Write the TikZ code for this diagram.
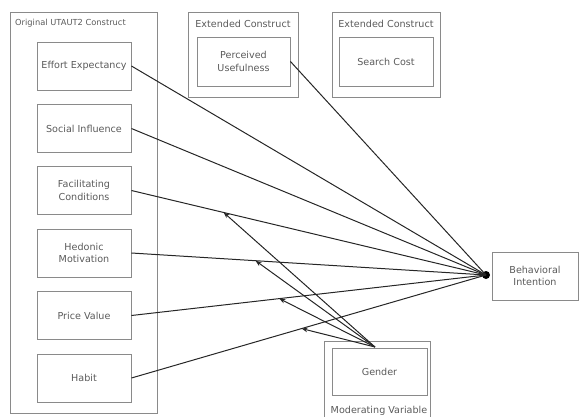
\documentclass[tikz,border=0pt]{standalone}
\usepackage{fontspec}
\setmainfont{DejaVu Sans}
\usetikzlibrary{arrows.meta}
\definecolor{boxgray}{HTML}{8A8A8A}
\definecolor{txtgray}{HTML}{5A5A5A}
\definecolor{linegray}{HTML}{262626}
\tikzset{
  container/.style={draw=boxgray, line width=0.9pt, inner sep=0pt},
  construct/.style={draw=boxgray, line width=0.9pt, align=center, text=txtgray,
    font=\fontsize{9.6}{12.5}\selectfont, inner sep=1pt},
  title/.style={text=txtgray, font=\fontsize{9.6}{11}\selectfont, inner sep=0pt},
  conn/.style={draw=linegray, line width=1pt},
  modarrow/.style={draw=linegray, line width=1pt, -{Stealth[length=6pt,width=4.5pt]}},
}
\begin{document}
\begin{tikzpicture}[x=1pt,y=-1pt]
\useasboundingbox (0,0) rectangle (581,416);
\clip (0,0) rectangle (581,416);

% containers
\node[container, minimum width=147pt, minimum height=401pt] (orig) at (83.5,212.5) {};
\node[title, anchor=west, font=\fontsize{8.3}{10}\selectfont] (origt) at (15,23) {Original UTAUT2 Construct};
\node[container, minimum width=110pt, minimum height=85pt] (ext1) at (243,54.5) {};
\node[title] (ext1t) at (243,24) {Extended Construct};
\node[container, minimum width=108pt, minimum height=85pt] (ext2) at (386,54.5) {};
\node[title] (ext2t) at (386,24) {Extended Construct};
\node[container, minimum width=106pt, minimum height=82pt] (modc) at (377.5,382) {};
\node[title] (modt) at (379,411) {Moderating Variable};

% constructs
\node[construct, minimum width=94pt, minimum height=48pt] (ee) at (84,66) {Effort Expectancy};
\node[construct, minimum width=94pt, minimum height=48pt] (si) at (84,128.5) {Social Influence};
\node[construct, minimum width=94pt, minimum height=48pt] (fc) at (84,190.5) {Facilitating\\Conditions};
\node[construct, minimum width=94pt, minimum height=48pt] (hm) at (84,253) {Hedonic\\Motivation};
\node[construct, minimum width=94pt, minimum height=48pt] (pv) at (84,315.5) {Price Value};
\node[construct, minimum width=94pt, minimum height=48pt] (hb) at (84,378) {Habit};
\node[construct, minimum width=93pt, minimum height=49pt] (pu) at (243.5,61.5) {Perceived\\Usefulness};
\node[construct, minimum width=94pt, minimum height=49pt] (sc) at (386,61.5) {Search Cost};
\node[construct, minimum width=86pt, minimum height=48pt] (bi) at (535,276) {Behavioral\\Intention};
\node[construct, minimum width=95pt, minimum height=47pt] (gd) at (379.5,371.5) {Gender};

% junction dot
\node[circle, fill=black, inner sep=0pt, minimum size=8pt] (dot) at (486,275) {};

% connectors to behavioral intention
\draw[conn] (ee.east) -- (dot.center);
\draw[conn] (si.east) -- (dot.center);
\draw[conn] (fc.east) -- (dot.center) coordinate[pos=0.26] (t1);
\draw[conn] (hm.east) -- (dot.center) coordinate[pos=0.35] (t2);
\draw[conn] (pv.east) -- (dot.center) coordinate[pos=0.417] (t3);
\draw[conn] (hb.east) -- (dot.center) coordinate[pos=0.48] (t4);
\draw[conn] (pu.east) -- (dot.center);

% moderating arrows
\coordinate (gs) at (375,347);
\draw[modarrow] (gs) -- (t1);
\draw[modarrow] (gs) -- (t2);
\draw[modarrow] (gs) -- (t3);
\draw[modarrow] (gs) -- (t4);
\end{tikzpicture}
\end{document}
